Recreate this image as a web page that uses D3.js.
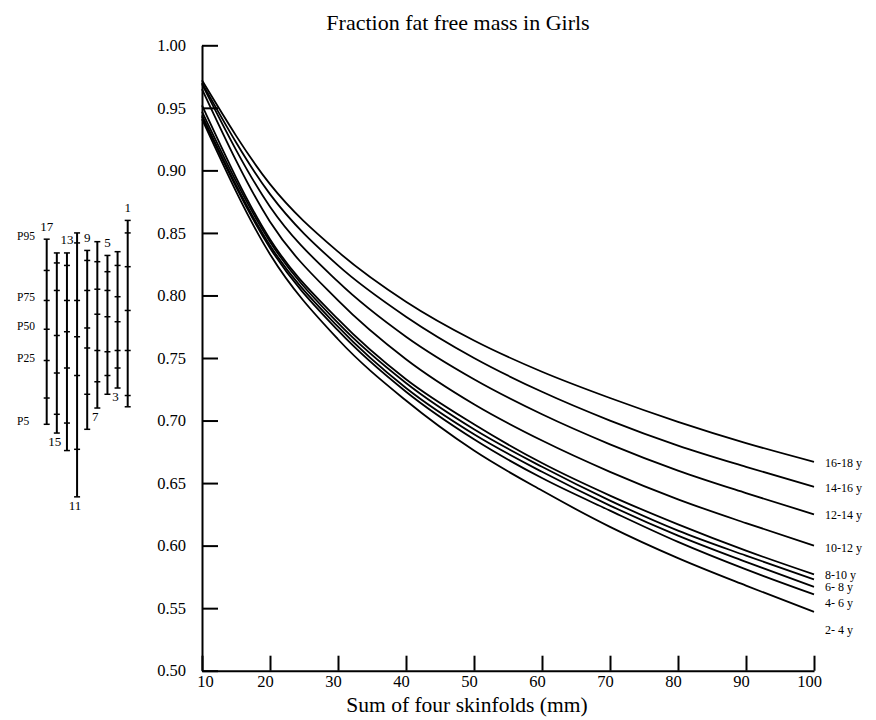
<!DOCTYPE html>
<html>
<head>
<meta charset="utf-8">
<script src="https://cdn.jsdelivr.net/npm/d3@7"></script>
<style>
  body { margin: 0; background: #fff; }
  svg text { font-family: "Liberation Serif", "Times New Roman", serif; fill: #000; }
</style>
</head>
<body>
<svg id="chart" width="876" height="720"></svg>
<script>
// sum of four skinfolds (mm)
const sums = [10, 20, 30, 40, 50, 60, 70, 80, 90, 100];

// fraction fat free mass, one array per curve (top to bottom at the right end)
const ffm1618 = [0.972, 0.889, 0.835, 0.795, 0.764, 0.739, 0.718, 0.699, 0.682, 0.667];
const ffm1416 = [0.970, 0.881, 0.824, 0.783, 0.750, 0.723, 0.700, 0.680, 0.663, 0.647];
const ffm1214 = [0.969, 0.871, 0.811, 0.767, 0.733, 0.705, 0.681, 0.660, 0.642, 0.625];
const ffm1012 = [0.965, 0.859, 0.796, 0.749, 0.713, 0.684, 0.659, 0.637, 0.618, 0.600];
const ffm810  = [0.952, 0.845, 0.781, 0.733, 0.697, 0.666, 0.640, 0.617, 0.596, 0.577];
const ffm68   = [0.947, 0.843, 0.778, 0.730, 0.693, 0.663, 0.636, 0.612, 0.592, 0.573];
const ffm46   = [0.944, 0.840, 0.775, 0.726, 0.689, 0.659, 0.632, 0.608, 0.587, 0.567];
const ffm02   = [0.943, 0.838, 0.772, 0.723, 0.685, 0.654, 0.628, 0.603, 0.581, 0.561];
const ffm24   = [0.941, 0.833, 0.765, 0.716, 0.676, 0.644, 0.615, 0.590, 0.568, 0.547];
const curves = [ffm1618, ffm1416, ffm1214, ffm1012, ffm810, ffm68, ffm46, ffm02, ffm24];

// labels at the right end, and the value they sit at
const endLabels = ["16-18 y", "14-16 y", "12-14 y", "10-12 y", "8-10 y", "6- 8 y", "4- 6 y", "2- 4 y"];
const endLabelAt = [0.666, 0.646, 0.625, 0.598, 0.577, 0.567, 0.554, 0.533];

const xTicks = [10, 20, 30, 40, 50, 60, 70, 80, 90, 100];
const yTicks = [0.50, 0.55, 0.60, 0.65, 0.70, 0.75, 0.80, 0.85, 0.90, 0.95, 1.00];

// percentile bars on the left (P5, P10, P25, P50, P75, P90, P95)
const barAges = [17, 15, 13, 11, 9, 7, 5, 3, 1];
const bar17 = [0.697, 0.718, 0.748, 0.773, 0.796, 0.820, 0.845];
const bar15 = [0.690, 0.705, 0.738, 0.768, 0.804, 0.826, 0.834];
const bar13 = [0.676, 0.698, 0.742, 0.771, 0.796, 0.824, 0.834];
const bar11 = [0.639, 0.677, 0.736, 0.767, 0.796, 0.842, 0.850];
const bar9  = [0.693, 0.721, 0.758, 0.774, 0.804, 0.828, 0.836];
const bar7  = [0.710, 0.731, 0.756, 0.785, 0.805, 0.827, 0.843];
const bar5  = [0.721, 0.736, 0.755, 0.783, 0.804, 0.819, 0.832];
const bar3  = [0.726, 0.742, 0.756, 0.779, 0.799, 0.824, 0.835];
const bar1  = [0.711, 0.720, 0.756, 0.788, 0.823, 0.850, 0.860];
const bars = [bar17, bar15, bar13, bar11, bar9, bar7, bar5, bar3, bar1];
const pctNames = ["P5", "P10", "P25", "P50", "P75", "P90", "P95"];
const pctShown = ["P5", "P25", "P50", "P75", "P95"];

const svg = d3.select("#chart");
const x = d3.scaleLinear().domain([10, 100]).range([202, 814]);
const y = d3.scaleLinear().domain([0.5, 1.0]).range([670.7, 45.3]);

// y axis, ticks pointing inward
svg.append("g")
  .attr("transform", `translate(${x(10)},0)`)
  .call(d3.axisLeft(y).tickValues(yTicks).tickFormat(d3.format(".2f"))
    .tickSizeInner(-16).tickSizeOuter(0).tickPadding(16))
  .call(g => g.attr("font-family", null).attr("font-size", null))
  .call(g => g.selectAll("path, line").attr("stroke", "#000").attr("stroke-width", 2))
  .call(g => g.selectAll("text").attr("fill", "#000").style("font-size", "16.5px"));

// x axis, ticks pointing up
svg.append("g")
  .attr("transform", `translate(0,${y(0.5)})`)
  .call(d3.axisBottom(x).tickValues(xTicks)
    .tickSizeInner(-15).tickSizeOuter(0).tickPadding(5))
  .call(g => g.attr("font-family", null).attr("font-size", null))
  .call(g => g.selectAll("path, line").attr("stroke", "#000").attr("stroke-width", 2))
  .call(g => g.selectAll("text").attr("fill", "#000").style("font-size", "16.5px")
    .attr("dx", d => d === 10 ? 3 : -5));

// curves
const line = d3.line()
  .x((d, i) => x(sums[i]))
  .y(d => y(d))
  .curve(d3.curveMonotoneX);

svg.append("g").selectAll("path")
  .data(curves)
  .join("path")
  .attr("fill", "none")
  .attr("stroke", "#000")
  .attr("stroke-width", 1.8)
  .attr("d", line);

svg.append("g").selectAll("text")
  .data(endLabels)
  .join("text")
  .attr("x", 825)
  .attr("y", (d, i) => y(endLabelAt[i]))
  .attr("dy", "0.35em")
  .attr("fill", "#000")
  .style("font-size", "12px")
  .text(d => d);

// percentile bars
const bx = d3.scalePoint().domain(barAges).range([46.7, 127.7]);
const bg = svg.append("g");
bars.forEach((vals, i) => {
  const cx = bx(barAges[i]);
  bg.append("line")
    .attr("x1", cx).attr("x2", cx)
    .attr("y1", y(d3.min(vals))).attr("y2", y(d3.max(vals)))
    .attr("stroke", "#000").attr("stroke-width", 2);
  bg.selectAll(null)
    .data(vals)
    .join("line")
    .attr("x1", cx - 3).attr("x2", cx + 3)
    .attr("y1", d => y(d)).attr("y2", d => y(d))
    .attr("stroke", "#000").attr("stroke-width", 1.5);
  const top = i % 2 === 0;
  bg.append("text")
    .attr("x", top ? cx : cx - 2)
    .attr("y", top ? y(d3.max(vals)) - 8.5 : y(d3.min(vals)) + 13)
    .attr("text-anchor", "middle")
    .attr("fill", "#000")
    .style("font-size", "13px")
    .text(barAges[i]);
});

bg.selectAll(".pct")
  .data(pctShown)
  .join("text")
  .attr("class", "pct")
  .attr("x", 17)
  .attr("y", d => y(bar17[pctNames.indexOf(d)]) + 1)
  .attr("fill", "#000")
  .style("font-size", "11.5px")
  .text(d => d);

// titles
svg.append("text")
  .attr("x", 458).attr("y", 30)
  .attr("text-anchor", "middle")
  .attr("fill", "#000")
  .style("font-size", "22px")
  .text("Fraction fat free mass in Girls");

svg.append("text")
  .attr("x", 467).attr("y", 712)
  .attr("text-anchor", "middle")
  .attr("fill", "#000")
  .style("font-size", "21.5px")
  .text("Sum of four skinfolds (mm)");
</script>
</body>
</html>
